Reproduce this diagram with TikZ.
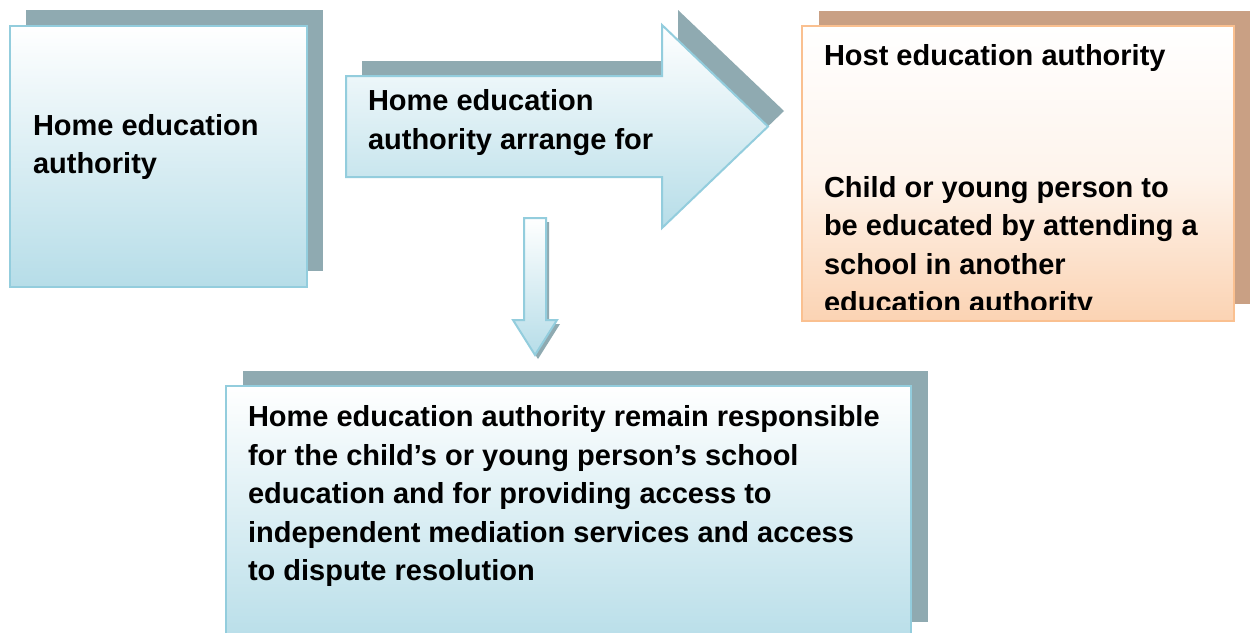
\documentclass[tikz,border=0pt]{standalone}
\usepackage{fontspec}
\setmainfont{Liberation Sans}
\definecolor{blueedge}{HTML}{93CDDD}
\definecolor{bluefill}{HTML}{B6DDE8}
\definecolor{blueshadow}{HTML}{8FAAB1}
\definecolor{orangeedge}{HTML}{FAC090}
\definecolor{peachfill}{HTML}{FBD3B3}
\definecolor{tanshadow}{HTML}{C9A084}
\tikzset{
  blueshape/.style={draw=blueedge, line width=2pt, top color=white, bottom color=bluefill, middle color=bluefill!50!white},
  peachshape/.style={draw=orangeedge, line width=2pt, top color=white, bottom color=peachfill, middle color=peachfill!25!white},
  boxnode/.style={rectangle, anchor=north west, inner sep=0pt, outer sep=0pt},
  blueshadowfill/.style={fill=blueshadow, draw=none},
  tanshadowfill/.style={fill=tanshadow, draw=none},
  txt/.style={anchor=north west, inner sep=0pt, outer sep=0pt, align=left,
    font=\fontsize{29}{38.5}\selectfont\bfseries}
}
\begin{document}
\begin{tikzpicture}[x=1pt,y=-1pt]
\clip (0,0) rectangle (1253,632);
\fill[white] (0,0) rectangle (1253,632);

% Home education authority box
\fill[blueshadowfill] (26,10) rectangle (323,271);
\node[boxnode, blueshape, minimum width=297pt, minimum height=261pt] (home) at (10,26) {};
\node[txt] (hometext) at (33,108.5) {\strut Home education\\authority};

% Right block arrow
\fill[blueshadowfill] (362,61) -- (678,61) -- (678,10) -- (784,111) -- (678,213) -- (678,162) -- (362,162) -- cycle;
\path[blueshape] (346,76) -- (662,76) -- (662,25) -- (768,126.5) -- (662,228) -- (662,177) -- (346,177) -- cycle;
\node[txt] (arrowtext) at (368,84) {\strut Home education\\authority arrange for};

% Host education authority box
\fill[tanshadowfill] (819,11) rectangle (1250,304);
\node[boxnode, peachshape, minimum width=432pt, minimum height=295pt] (host) at (802,26) {};
\node[txt] (hosttitle) at (824,38.5) {\strut Host education authority};
\begin{scope}
  \clip (803,27) rectangle (1233,309);
  \node[txt] (hostbody) at (824,170.5) {\strut Child or young person to\\be educated by attending a\\school in another\\education authority};
\end{scope}

% Down arrow
\fill[blueshadowfill] (527,222) -- (549,222) -- (549,324) -- (560,324) -- (538,359) -- (516,324) -- (527,324) -- cycle;
\path[blueshape] (524,218) -- (546,218) -- (546,320) -- (557,320) -- (535,355) -- (513,320) -- (524,320) -- cycle;

% Bottom box
\fill[blueshadowfill] (243,371) rectangle (928,622);
\node[boxnode, blueshape, minimum width=685pt, minimum height=264pt] (remain) at (226,386) {};
\node[txt] (remaintext) at (248,400) {\strut Home education authority remain responsible\\for the child’s or young person’s school\\education and for providing access to\\independent mediation services and access\\to dispute resolution};
\end{tikzpicture}
\end{document}
